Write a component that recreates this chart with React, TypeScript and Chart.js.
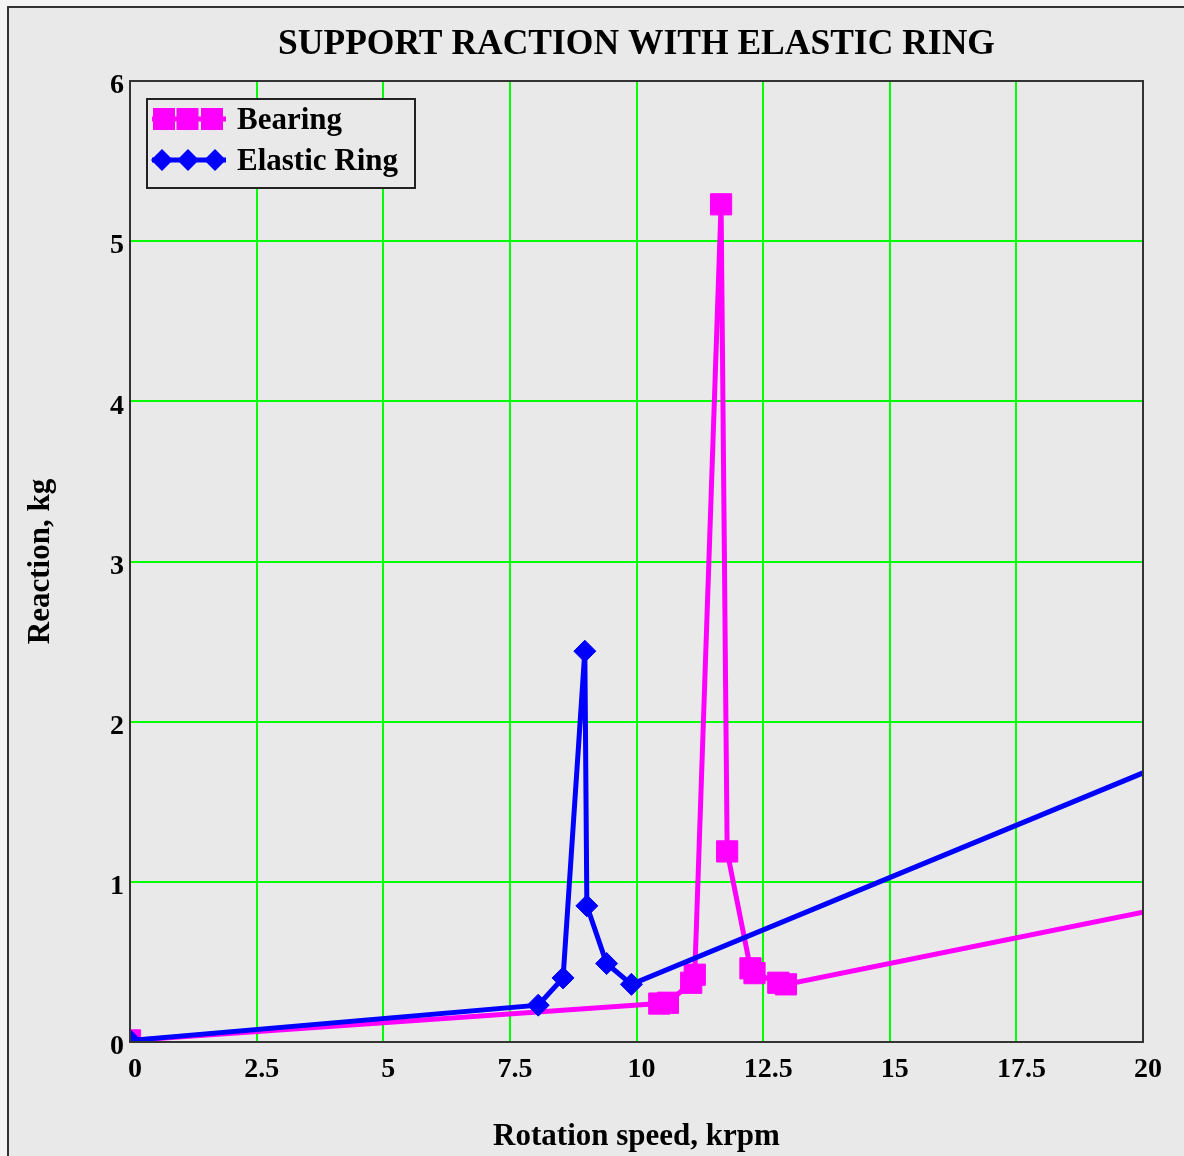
import React, { useEffect, useRef } from "react";
import { Chart, registerables } from "chart.js";

Chart.register(...registerables);

// ---- data ----
const chartTitle = "SUPPORT RACTION WITH ELASTIC RING";
const xAxisTitle = "Rotation speed, krpm";
const yAxisTitle = "Reaction, kg";
const seriesNames = ["Bearing", "Elastic Ring"];

const bearingSpeed = [0, 10.45, 10.62, 11.08, 11.15, 11.67, 11.79, 12.25, 12.33, 12.8, 12.95, 20];
const bearingReaction = [0.01, 0.24, 0.245, 0.37, 0.42, 5.23, 1.19, 0.46, 0.43, 0.37, 0.36, 0.81];

const ringSpeed = [0, 8.06, 8.55, 8.98, 9.02, 9.41, 9.9, 20];
const ringReaction = [0.01, 0.23, 0.4, 2.44, 0.85, 0.49, 0.36, 1.68];

const xTickValues = [0, 2.5, 5, 7.5, 10, 12.5, 15, 17.5, 20];
const yTickValues = [0, 1, 2, 3, 4, 5, 6];

// ---- style ----
const BG = "#e9e9e9";
const FRAME = "#333333";
const MAGENTA = "#ff00ff";
const BLUE = "#0000ff";
const GRID = "#00ff00";
const SERIF = "'Liberation Serif', 'Times New Roman', serif";

const toPoints = (xs: number[], ys: number[]) => xs.map((x, i) => ({ x, y: ys[i] }));

const frameLegendPlugin = {
  id: "frameLegend",
  afterDatasetsDraw(chart: any) {
    const { ctx, chartArea: a } = chart;
    ctx.save();
    ctx.strokeStyle = FRAME;
    ctx.lineWidth = 2;
    ctx.strokeRect(a.left, a.top, a.right - a.left, a.bottom - a.top);

    // legend
    const lx = a.left + 17;
    const ly = a.top + 18;
    const lw = 268;
    const lh = 89;
    ctx.fillStyle = BG;
    ctx.fillRect(lx, ly, lw, lh);
    ctx.strokeStyle = "#222";
    ctx.lineWidth = 2;
    ctx.strokeRect(lx, ly, lw, lh);

    // row 1 : Bearing
    const r1 = ly + 20;
    ctx.strokeStyle = MAGENTA;
    ctx.lineWidth = 5;
    ctx.beginPath();
    ctx.moveTo(lx + 5, r1);
    ctx.lineTo(lx + 79, r1);
    ctx.stroke();
    ctx.fillStyle = MAGENTA;
    [17, 40.5, 65].forEach((o) => ctx.fillRect(lx + o - 11, r1 - 11, 22, 22));

    // row 2 : Elastic Ring
    const r2 = ly + 61;
    ctx.strokeStyle = BLUE;
    ctx.beginPath();
    ctx.moveTo(lx + 5, r2);
    ctx.lineTo(lx + 79, r2);
    ctx.stroke();
    ctx.fillStyle = BLUE;
    [15, 41, 68].forEach((o) => {
      ctx.beginPath();
      ctx.moveTo(lx + o, r2 - 11);
      ctx.lineTo(lx + o + 11, r2);
      ctx.lineTo(lx + o, r2 + 11);
      ctx.lineTo(lx + o - 11, r2);
      ctx.closePath();
      ctx.fill();
    });

    ctx.fillStyle = "#000";
    ctx.font = `bold 31px ${SERIF}`;
    ctx.textBaseline = "middle";
    ctx.textAlign = "left";
    ctx.fillText(seriesNames[0], lx + 90, r1 + 1.5);
    ctx.fillText(seriesNames[1], lx + 90, r2 + 1.5);
    ctx.restore();
  },
};

export default function App() {
  const canvasRef = useRef<HTMLCanvasElement | null>(null);

  useEffect(() => {
    document.body.style.background = "#f4f4f4";
    const canvas = canvasRef.current;
    if (!canvas) return;
    const lastIdx = (n: number) => n - 1;
    const chart = new Chart(canvas, {
      type: "line",
      data: {
        datasets: [
          {
            label: seriesNames[1],
            data: toPoints(ringSpeed, ringReaction),
            borderColor: BLUE,
            backgroundColor: BLUE,
            borderWidth: 5,
            pointStyle: "rectRot",
            pointRadius: (c: any) => (c.dataIndex === lastIdx(ringSpeed.length) ? 0 : 11),
            pointBorderWidth: 1,
            pointBackgroundColor: BLUE,
            pointBorderColor: BLUE,
            tension: 0,
            order: 1,
          },
          {
            label: seriesNames[0],
            data: toPoints(bearingSpeed, bearingReaction),
            borderColor: MAGENTA,
            backgroundColor: MAGENTA,
            borderWidth: 5,
            pointStyle: "rect",
            pointRadius: (c: any) => (c.dataIndex === lastIdx(bearingSpeed.length) ? 0 : 15),
            pointBorderWidth: 1,
            pointBackgroundColor: MAGENTA,
            pointBorderColor: MAGENTA,
            tension: 0,
            order: 2,
          },
        ],
      },
      options: {
        animation: false,
        responsive: false,
        devicePixelRatio: 1,
        layout: { padding: { left: 0, right: 41, top: 0, bottom: 0 } },
        plugins: {
          legend: { display: false },
          tooltip: { enabled: false },
          title: {
            display: true,
            text: chartTitle,
            color: "#000",
            fullSize: false,
            font: { family: SERIF, size: 35.5, weight: "bold", lineHeight: 1.2 },
            padding: { top: 15.5, bottom: 14.9 },
          },
        },
        scales: {
          x: {
            type: "linear",
            min: 0,
            max: 20,
            afterBuildTicks: (s: any) => {
              s.ticks = xTickValues.map((v) => ({ value: v }));
            },
            afterFit: (s: any) => {
              s.height = 114;
            },
            ticks: {
              color: "#000",
              font: { family: SERIF, size: 28, weight: "bold", lineHeight: 1.2 },
              padding: 11,
              labelOffset: 5,
              maxRotation: 0,
              autoSkip: false,
              callback: (v: any) => String(v),
            },
            grid: { color: GRID, lineWidth: 2, drawTicks: false },
            border: { display: false },
            title: {
              display: true,
              text: xAxisTitle,
              color: "#000",
              font: { family: SERIF, size: 31, weight: "bold", lineHeight: 1.2 },
              padding: { top: 0, bottom: 0 },
            },
          },
          y: {
            type: "linear",
            min: 0,
            max: 6,
            afterBuildTicks: (s: any) => {
              s.ticks = yTickValues.map((v) => ({ value: v }));
            },
            afterFit: (s: any) => {
              s.width = 121;
            },
            ticks: {
              color: "#000",
              font: { family: SERIF, size: 28, weight: "bold", lineHeight: 1.2 },
              padding: 6,
              labelOffset: 5,
              autoSkip: false,
              callback: (v: any) => String(v),
            },
            grid: { color: GRID, lineWidth: 2, drawTicks: false },
            border: { display: false },
            title: {
              display: true,
              text: yAxisTitle,
              color: "#000",
              font: { family: SERIF, size: 31, weight: "bold", lineHeight: 1.2 },
              padding: { top: 13.4, bottom: 0 },
            },
          },
        },
      } as any,
      plugins: [frameLegendPlugin],
    });
    return () => chart.destroy();
  }, []);

  return (
    <div
      style={{
        position: "fixed",
        left: 7,
        top: 6,
        width: 1177,
        height: 1150,
        boxSizing: "border-box",
        borderLeft: `2px solid ${FRAME}`,
        borderTop: `2px solid ${FRAME}`,
        background: BG,
      }}
    >
      <canvas ref={canvasRef} width={1175} height={1148} style={{ display: "block", width: 1175, height: 1148 }} />
    </div>
  );
}
